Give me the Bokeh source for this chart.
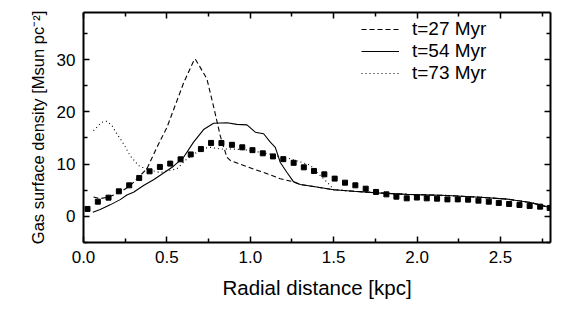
from bokeh.plotting import figure
from bokeh.models import (LinearAxis, FixedTicker, Range1d, Legend, LegendItem,
                          NumeralTickFormatter, CustomJSTickFormatter)
from bokeh.embed import file_html
from bokeh.resources import INLINE

# ---- data ----
x_sq = [0.024, 0.086, 0.150, 0.212, 0.274, 0.334, 0.396, 0.458, 0.520, 0.582,
        0.643, 0.704, 0.765, 0.827, 0.890, 0.952, 1.013, 1.075, 1.136, 1.198,
        1.260, 1.321, 1.382, 1.444, 1.506, 1.568, 1.630, 1.692, 1.754, 1.816,
        1.876, 1.938, 1.999, 2.058, 2.120, 2.182, 2.244, 2.306, 2.368, 2.430,
        2.490, 2.552, 2.614, 2.675, 2.738, 2.795]
y_sq = [1.42, 2.81, 3.58, 4.79, 5.94, 7.35, 8.62, 9.46, 10.09, 10.91,
        11.85, 12.87, 14.05, 14.02, 13.69, 13.21, 12.67, 12.06, 11.47, 10.95,
        10.24, 9.38, 8.69, 8.04, 7.22, 6.45, 5.94, 5.30, 4.67, 4.21,
        3.77, 3.45, 3.60, 3.45, 3.39, 3.25, 3.25, 3.20, 3.01, 2.81,
        2.57, 2.37, 2.18, 1.99, 1.86, 1.61]

# common outer profile shared by the three curves
x_tail = [1.62, 1.76, 1.94, 2.18, 2.38, 2.54, 2.68, 2.80]
y_tail = [4.8, 4.5, 4.2, 4.0, 3.65, 3.3, 2.65, 1.65]

x27 = [0.06, 0.10, 0.15, 0.22, 0.28, 0.34, 0.38, 0.44, 0.50, 0.56, 0.60, 0.66,
       0.67, 0.70, 0.74, 0.78, 0.82, 0.86, 0.88, 0.98, 1.08, 1.18, 1.26, 1.30,
       1.38, 1.50]
y27 = [3.7, 3.4, 3.7, 4.6, 5.9, 7.8, 9.1, 13.2, 17.0, 22.1, 25.5, 29.7,
       30.1, 28.5, 26.3, 21.0, 15.4, 11.3, 10.7, 9.5, 8.4, 7.2, 6.6, 6.1,
       5.7, 5.1]

x54 = [0.056, 0.10, 0.16, 0.22, 0.26, 0.30, 0.36, 0.42, 0.48, 0.54, 0.60, 0.66,
       0.72, 0.78, 0.86, 0.92, 0.98, 1.03, 1.08, 1.12, 1.15, 1.18, 1.22, 1.26,
       1.30, 1.38, 1.50]
y54 = [0.8, 1.3, 2.2, 3.2, 4.1, 4.6, 5.9, 7.0, 8.3, 9.6, 11.3, 14.2,
       16.6, 17.8, 17.9, 17.6, 17.5, 16.1, 15.8, 14.2, 13.2, 10.3, 8.4, 6.6,
       6.1, 5.7, 5.1]

x73 = [0.06, 0.11, 0.14, 0.17, 0.20, 0.24, 0.28, 0.33, 0.36, 0.41, 0.46, 0.51,
       0.56, 0.61, 0.66, 0.72, 0.76, 0.82, 0.88, 0.94, 1.00, 1.06, 1.12, 1.18,
       1.24, 1.30, 1.36, 1.40, 1.44, 1.48, 1.50]
y73 = [16.4, 18.0, 18.2, 17.4, 15.8, 13.9, 11.6, 9.7, 9.3, 8.75, 8.4, 8.75,
       9.1, 10.7, 11.9, 13.0, 13.2, 12.9, 12.9, 12.8, 12.6, 12.25, 11.9, 11.4,
       11.0, 10.4, 9.8, 8.4, 7.2, 5.9, 5.1]

labels = ["t=27 Myr", "t=54 Myr", "t=73 Myr"]
x_major = [0.0, 0.5, 1.0, 1.5, 2.0, 2.5]
x_minor = [0.25, 0.75, 1.25, 1.75, 2.25, 2.75]
y_major = [0, 10, 20, 30]
y_minor = [-5, 5, 15, 25, 35]

FONT = "Liberation Sans"

p = figure(width=578, height=302,
           x_range=Range1d(0, 2.8), y_range=Range1d(-5, 39),
           output_backend="svg", toolbar_location=None,
           min_border_left=83, min_border_right=28,
           min_border_top=12, min_border_bottom=60,
           x_axis_location=None, y_axis_location=None)
p.grid.visible = False
p.outline_line_color = None
p.background_fill_color = "white"
p.border_fill_color = "white"


def style(ax, labels_on):
    ax.axis_line_width = 2
    ax.axis_line_color = "black"
    ax.major_tick_in = 6
    ax.major_tick_out = 0
    ax.minor_tick_in = 4
    ax.minor_tick_out = 0
    ax.major_tick_line_width = 1.5
    ax.minor_tick_line_width = 1.5
    ax.major_tick_line_color = "black"
    ax.minor_tick_line_color = "black"
    if labels_on:
        ax.major_label_text_font = FONT
        ax.major_label_text_font_size = "17px"
        ax.major_label_text_color = "black"
        ax.axis_label_text_font = FONT
        ax.axis_label_text_font_style = "normal"
        ax.axis_label_text_color = "black"
    else:
        ax.formatter = CustomJSTickFormatter(code="return ''")
        ax.major_label_text_font_size = "1px"
        ax.major_label_standoff = 0


xb = LinearAxis(ticker=FixedTicker(ticks=x_major, minor_ticks=x_minor),
                formatter=NumeralTickFormatter(format="0.0"),
                axis_label="Radial distance [kpc]")
style(xb, True)
xb.axis_label_text_font_size = "20.5px"
xb.major_label_standoff = 8
xb.axis_label_standoff = 10
p.add_layout(xb, "below")

xt = LinearAxis(ticker=FixedTicker(ticks=x_major, minor_ticks=x_minor))
style(xt, False)
p.add_layout(xt, "above")

yl = LinearAxis(ticker=FixedTicker(ticks=y_major, minor_ticks=y_minor),
                axis_label="Gas surface density [Msun pc\u207b\u00b2]")
style(yl, True)
yl.axis_label_text_font_size = "16.5px"
yl.major_label_standoff = 8
yl.axis_label_standoff = 7
p.add_layout(yl, "left")

yr = LinearAxis(ticker=FixedTicker(ticks=y_major, minor_ticks=y_minor))
style(yr, False)
p.add_layout(yr, "right")

r27 = p.line(x27 + x_tail, y27 + y_tail, line_color="black", line_width=1.1,
             line_dash="5 3")
r54 = p.line(x54 + x_tail, y54 + y_tail, line_color="black", line_width=1.1)
r73 = p.line(x73 + x_tail, y73 + y_tail, line_color="black", line_width=1.1,
             line_dash="1 3")
p.scatter(x_sq, y_sq, marker="square", size=5, color="black")

legend = Legend(items=[LegendItem(label=labels[0], renderers=[r27]),
                       LegendItem(label=labels[1], renderers=[r54]),
                       LegendItem(label=labels[2], renderers=[r73])],
                location=(278, 158))
legend.border_line_color = None
legend.background_fill_alpha = 0
legend.padding = 0
legend.margin = 0
legend.spacing = 0
legend.glyph_width = 38
legend.glyph_height = 18
legend.label_height = 18
legend.label_standoff = 13
legend.label_text_font = FONT
legend.label_text_font_size = "19px"
legend.label_text_color = "black"
p.add_layout(legend)

open("out.html", "w").write(file_html(p, INLINE))
